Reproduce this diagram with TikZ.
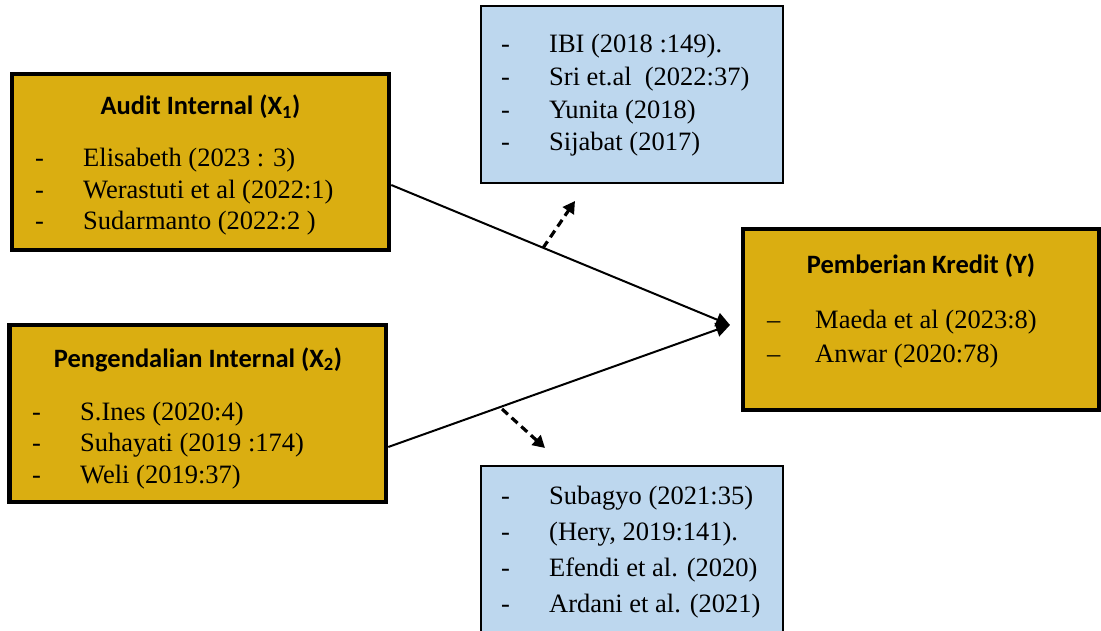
\documentclass[tikz,border=0pt]{standalone}
\usepackage{fontspec}
\setmainfont{Liberation Serif}
\newfontfamily\titlefont{Carlito}
\usetikzlibrary{arrows.meta}
\definecolor{gold}{RGB}{218,174,17}
\definecolor{lblue}{RGB}{189,215,238}
\tikzset{
  goldbox/.style={draw=black, line width=4.5pt, fill=gold, inner sep=0pt},
  bluebox/.style={draw=black, line width=1.8pt, fill=lblue, inner sep=0pt},
  ttl/.style={font=\titlefont\bfseries\fontsize{26.5}{31}\selectfont, anchor=base, inner sep=0pt},
  refl/.style={font=\fontsize{26.5}{31}\selectfont, anchor=base west, inner sep=0pt},
  conn/.style={line width=2pt, -{Triangle[length=14pt,width=14pt]}},
  dconn/.style={line width=3.2pt, dash pattern=on 8pt off 5pt, -{Triangle[length=12pt,width=13pt]}}
}
\newcommand{\hy}{\makebox[48pt][l]{-}}
\newcommand{\en}{\makebox[48pt][l]{--}}
\begin{document}
\begin{tikzpicture}[x=1pt,y=-1pt]
\useasboundingbox (0,0) rectangle (1101,631);
% boxes
\node[goldbox, minimum width=377pt, minimum height=176pt] (x1) at (200.5,162) {};
\node[goldbox, minimum width=376.5pt, minimum height=177pt] (x2) at (197.75,413.5) {};
\node[goldbox, minimum width=356pt, minimum height=181pt] (y) at (921,319.5) {};
\node[bluebox, minimum width=302pt, minimum height=177pt] (b1) at (632,94.5) {};
\node[bluebox, minimum width=302pt, minimum height=190pt] (b2) at (632,561) {};
% X1 texts
\node[ttl] (x1t) at (200.5,115) {Audit Internal (X\textsubscript{1})};
\node[refl] (x1a) at (35,167) {\hy Elisabeth (2023 : 3)};
\node[refl] (x1b) at (35,198.5) {\hy Werastuti et al (2022:1)};
\node[refl] (x1c) at (35,230) {\hy Sudarmanto (2022:2 )};
% X2 texts
\node[ttl] (x2t) at (198,367) {Pengendalian Internal (X\textsubscript{2})};
\node[refl] (x2a) at (32,420) {\hy S.Ines (2020:4)};
\node[refl] (x2b) at (32,451.5) {\hy Suhayati (2019 :174)};
\node[refl] (x2c) at (32,483) {\hy Weli (2019:37)};
% Y texts
\node[ttl] (yt) at (921,273) {Pemberian Kredit (Y)};
\node[refl] (ya) at (767,328) {\en Maeda et al (2023:8)};
\node[refl] (yb) at (767,362) {\en Anwar (2020:78)};
% Blue top texts
\node[refl] (b1a) at (501,53) {\hy IBI (2018 :149).};
\node[refl] (b1b) at (501,86) {\hy Sri et.al\ \ (2022:37)};
\node[refl] (b1c) at (501,118.5) {\hy Yunita (2018)};
\node[refl] (b1d) at (501,151) {\hy Sijabat (2017)};
% Blue bottom texts
\node[refl] (b2a) at (501,504) {\hy Subagyo (2021:35)};
\node[refl] (b2b) at (501,540) {\hy (Hery, 2019:141).};
\node[refl] (b2c) at (501,576) {\hy Efendi et al. (2020)};
\node[refl] (b2d) at (501,612) {\hy Ardani et al. (2021)};
% connectors
\coordinate (yin) at (730,325);
\draw[conn] ([yshift=-23pt]x1.east) -- (yin);
\draw[conn] ([yshift=-33.5pt]x2.east) -- (yin);
\coordinate (d1s) at (543,248);
\coordinate (d1e) at (575,201);
\coordinate (d2s) at (502,409);
\coordinate (d2e) at (545,448);
\draw[dconn] (d1s) -- (d1e);
\draw[dconn] (d2s) -- (d2e);
\end{tikzpicture}
\end{document}
